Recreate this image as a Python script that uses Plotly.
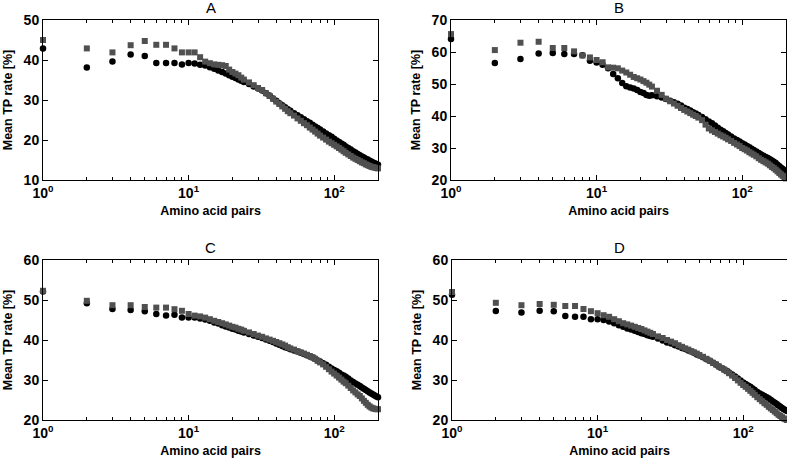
import math

import plotly.graph_objects as go

# number of amino acid pairs (x) shared by all four panels
AMINO_PAIRS = [
    1, 2, 3, 4, 5, 6, 7, 8, 9, 10, 11, 12, 13, 14, 15, 16, 17, 18, 19, 20, 21, 22, 23, 24,
    26, 28, 30, 32, 34, 36, 38, 40, 42, 44, 46, 48, 50,
    53, 56, 59, 62, 65, 68, 71, 74, 77, 80,
    84, 88, 92, 96, 100, 104, 108, 112, 116, 120,
    125, 130, 135, 140, 145, 150, 155, 160, 165, 170, 175, 180, 185, 190, 195, 200,
]

A_SQUARES = [
    45.0, 42.9, 41.9, 43.7, 44.75, 43.8, 43.8, 42.9, 41.9, 41.9, 41.9, 40.7, 39.6, 39.2, 38.9, 38.8, 38.7, 38.5, 37.6, 37.0, 36.6, 36.2, 35.6, 35.1,
    34.4, 33.7, 33.0, 32.5, 31.7, 31.0, 30.3, 29.6, 29.0, 28.4, 27.8, 27.2, 26.7,
    26.1, 25.4, 24.8, 24.2, 23.7, 23.1, 22.6, 22.1, 21.6, 21.1,
    20.6, 20.1, 19.6, 19.2, 18.8, 18.4, 18.0, 17.6, 17.2, 16.8,
    16.4, 16.0, 15.6, 15.3, 15.0, 14.7, 14.4, 14.2, 13.9, 13.7, 13.5, 13.3, 13.2, 13.1, 13.0, 12.9,
]
A_CIRCLES = [
    42.9, 38.1, 39.6, 41.4, 41.0, 39.25, 39.25, 39.25, 38.9, 39.25, 39.1, 38.8, 38.6, 38.2, 37.8, 37.4, 37.0, 36.6, 36.2, 35.8, 35.5, 35.1, 34.8, 34.5,
    34.0, 33.4, 32.9, 32.4, 31.7, 31.1, 30.4, 29.8, 29.2, 28.7, 28.2, 27.7, 27.3,
    26.7, 26.2, 25.7, 25.2, 24.7, 24.3, 23.8, 23.4, 23.0, 22.6,
    22.1, 21.6, 21.2, 20.8, 20.3, 19.9, 19.5, 19.1, 18.8, 18.4,
    18.0, 17.6, 17.2, 16.9, 16.5, 16.2, 15.9, 15.6, 15.3, 15.1, 14.8, 14.6, 14.4, 14.2, 14.0, 13.8,
]

B_SQUARES = [
    65.6, 60.6, 62.9, 63.2, 61.25, 61.25, 60.2, 58.9, 58.3, 57.5, 56.8, 55.2, 55.1, 54.9, 54.2, 53.6, 52.9, 52.2, 51.8, 51.4, 50.9, 50.4, 49.8, 49.2,
    47.9, 46.6, 45.4, 44.6, 43.9, 43.2, 42.5, 41.9, 41.4, 40.9, 40.4, 40.0, 39.5,
    38.7, 37.3, 36.1, 35.5, 35.0, 34.5, 34.0, 33.6, 33.2, 32.7,
    32.2, 31.6, 31.1, 30.6, 30.0, 29.6, 29.2, 28.7, 28.3, 27.9,
    27.4, 26.8, 26.3, 25.9, 25.5, 25.1, 24.6, 24.1, 23.7, 23.2, 22.7, 22.2, 21.7, 21.3, 20.9, 20.5,
]
B_CIRCLES = [
    64.1, 56.6, 57.8, 59.5, 59.7, 59.4, 59.4, 59.0, 57.3, 56.7, 56.0, 54.9, 53.1, 51.8, 50.3, 49.3, 48.9, 48.6, 48.1, 47.5, 47.2, 46.6, 46.3, 46.5,
    46.2, 45.8, 45.3, 44.8, 44.3, 43.8, 43.3, 42.6, 42.2, 41.7, 41.2, 40.8, 40.3,
    39.7, 39.0, 38.3, 37.7, 37.0, 36.3, 35.7, 35.2, 34.7, 34.2,
    33.6, 33.0, 32.5, 32.0, 31.5, 31.1, 30.6, 30.2, 29.8, 29.4,
    28.9, 28.4, 28.0, 27.6, 27.2, 26.9, 26.5, 26.1, 25.7, 25.3, 24.8, 24.3, 23.8, 23.4, 23.0, 22.6,
]

C_SQUARES = [
    52.3, 49.8, 48.7, 48.7, 48.25, 48.1, 48.1, 47.7, 47.3, 46.5, 46.1, 45.9, 45.6, 45.2, 44.8, 44.5, 44.2, 43.9, 43.6, 43.3, 43.1, 42.8, 42.6, 42.3,
    41.9, 41.5, 41.1, 40.8, 40.4, 40.1, 39.8, 39.5, 39.2, 38.9, 38.6, 38.2, 37.9,
    37.6, 37.2, 36.9, 36.6, 36.3, 36.0, 35.7, 35.3, 34.8, 34.4,
    33.9, 33.3, 32.7, 32.1, 31.6, 31.1, 30.6, 30.1, 29.6, 29.2,
    28.6, 28.0, 27.4, 26.9, 26.4, 26.0, 25.4, 24.8, 24.3, 23.8, 23.4, 23.1, 22.9, 22.8, 22.7, 22.7,
]
C_CIRCLES = [
    52.1, 49.2, 47.75, 47.5, 47.2, 46.5, 46.1, 46.3, 45.6, 45.6, 45.6, 45.4, 45.1, 44.8, 44.4, 44.1, 43.7, 43.4, 43.1, 42.8, 42.6, 42.3, 42.1, 41.9,
    41.5, 41.1, 40.8, 40.5, 40.1, 39.8, 39.5, 39.1, 38.8, 38.5, 38.2, 38.0, 37.7,
    37.4, 37.1, 36.8, 36.5, 36.2, 35.9, 35.6, 35.3, 34.9, 34.6,
    34.2, 33.8, 33.3, 32.9, 32.5, 32.2, 31.8, 31.4, 31.1, 30.8,
    30.4, 29.9, 29.5, 29.1, 28.8, 28.5, 28.1, 27.8, 27.5, 27.2, 26.9, 26.6, 26.4, 26.1, 25.9, 25.7,
]

D_SQUARES = [
    52.0, 49.3, 48.7, 49.0, 48.8, 48.5, 48.5, 47.75, 47.2, 46.7, 46.2, 45.8, 45.2, 44.7, 44.2, 43.9, 43.6, 43.3, 43.0, 42.75, 42.4, 42.1, 41.8, 41.5,
    40.9, 40.5, 40.0, 39.6, 39.2, 38.7, 38.3, 37.9, 37.6, 37.2, 36.9, 36.6, 36.25,
    35.8, 35.3, 34.8, 34.3, 33.9, 33.4, 33.0, 32.6, 32.2, 31.7,
    31.1, 30.5, 29.9, 29.3, 28.75, 28.3, 27.8, 27.3, 26.8, 26.3,
    25.7, 25.2, 24.7, 24.2, 23.8, 23.3, 22.9, 22.5, 22.1, 21.7, 21.3, 21.0, 20.7, 20.4, 20.2, 20.0,
]
D_CIRCLES = [
    51.3, 47.25, 46.9, 47.3, 47.2, 46.0, 45.8, 45.8, 45.2, 45.2, 45.0, 44.6, 44.2, 43.7, 43.3, 42.9, 42.6, 42.3, 42.0, 41.7, 41.5, 41.2, 41.0, 40.8,
    40.4, 39.9, 39.4, 39.1, 38.7, 38.4, 38.0, 37.75, 37.4, 37.1, 36.8, 36.4, 36.1,
    35.7, 35.2, 34.8, 34.3, 33.9, 33.4, 33.0, 32.6, 32.3, 31.9,
    31.4, 30.9, 30.4, 29.9, 29.4, 29.0, 28.6, 28.3, 27.9, 27.5,
    27.0, 26.6, 26.3, 26.0, 25.7, 25.4, 25.0, 24.6, 24.3, 24.0, 23.6, 23.3, 23.0, 22.7, 22.5, 22.25,
]

PANEL_TITLES = ["A", "B", "C", "D"]
X_TICKS = [1, 10, 100]
X_TICK_TEXT = ["10<sup>0</sup>", "10<sup>1</sup>", "10<sup>2</sup>"]
X_MINOR = [2, 3, 4, 5, 6, 7, 8, 9, 20, 30, 40, 50, 60, 70, 80, 90, 200]

W, H = 787, 460
FONT = "Liberation Sans, Arial, sans-serif"
GREY = "#505050"

# (title, circles, squares, y range, x px span, y px span) in window pixels
panels = [
    ("A", A_CIRCLES, A_SQUARES, [10, 50], (43, 378), (20, 180)),
    ("B", B_CIRCLES, B_SQUARES, [20, 70], (451, 786), (20, 180)),
    ("C", C_CIRCLES, C_SQUARES, [20, 60], (43, 378), (260, 420)),
    ("D", D_CIRCLES, D_SQUARES, [20, 60], (452, 787), (260, 420)),
]

fig = go.Figure()
layout = {}
annotations = []
for i, (title, circles, squares, yr, (x0, x1), (y0, y1)) in enumerate(panels):
    sfx = "" if i == 0 else str(i + 1)
    fig.add_trace(go.Scatter(
        x=AMINO_PAIRS, y=circles, mode="markers",
        marker=dict(symbol="circle", size=6.5, color="black"),
        xaxis="x" + sfx, yaxis="y" + sfx, showlegend=False, cliponaxis=False,
    ))
    fig.add_trace(go.Scatter(
        x=AMINO_PAIRS, y=squares, mode="markers",
        marker=dict(symbol="square", size=6, color=GREY),
        xaxis="x" + sfx, yaxis="y" + sfx, showlegend=False, cliponaxis=False,
    ))
    xdom = [x0 / W, min(1, x1 / W)]
    ydom = [1 - y1 / H, 1 - y0 / H]
    common = dict(
        showline=True, linecolor="black", linewidth=1, mirror="ticks",
        ticks="inside", ticklen=5, tickcolor="black", tickwidth=1,
        showgrid=False, zeroline=False, automargin=False,
        tickfont=dict(family=FONT, size=14, color="black", weight=700),
    )
    layout["xaxis" + sfx] = dict(
        common, type="log", range=[0, math.log10(200)], domain=xdom, anchor="y" + sfx,
        tickvals=X_TICKS, ticktext=X_TICK_TEXT,
        minor=dict(tickvals=X_MINOR, ticks="inside", ticklen=3, tickcolor="black"),
        title=dict(text="Amino acid pairs", font=dict(family=FONT, size=12.5, color="black", weight=700), standoff=6),
    )
    layout["yaxis" + sfx] = dict(
        common, range=yr, dtick=10, domain=ydom, anchor="x" + sfx,
        title=dict(text="Mean TP rate [%]", font=dict(family=FONT, size=12.5, color="black", weight=700), standoff=8),
    )
    annotations.append(dict(
        text=title, xref="paper", yref="paper", x=(xdom[0] + xdom[1]) / 2, y=ydom[1],
        xanchor="center", yanchor="bottom", yshift=2, showarrow=False,
        font=dict(family=FONT, size=15, color="black"),
    ))

fig.update_layout(
    width=W, height=H, autosize=False,
    margin=dict(l=0, r=0, t=0, b=0),
    paper_bgcolor="white", plot_bgcolor="white",
    annotations=annotations,
    **layout,
)

# drop the browser's default 8px body margin so the figure fills the window
fig.write_html(
    "out.html",
    config={"displayModeBar": False},
    post_script="document.body.style.margin = '0';",
)
